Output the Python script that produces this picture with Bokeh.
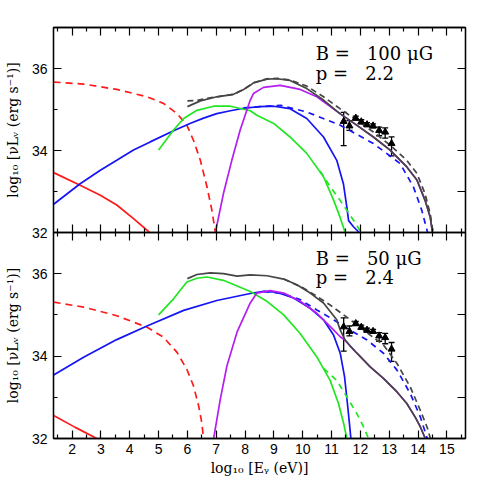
from bokeh.plotting import figure
from bokeh.layouts import column
from bokeh.models import (Range1d, LinearAxis, FixedTicker, CustomJSTickFormatter,
                          Label, Whisker, TeeHead, ColumnDataSource)
from bokeh.embed import file_html
from bokeh.resources import INLINE

# ---------------- data ----------------
x_major = list(range(2, 16))
x_minor = [i + 0.5 for i in range(1, 16)]
y_major = [32, 34, 36]
y_minor = [33, 35, 37]
y_right = [32, 33, 34, 35, 36, 37]

y_label = "log\u2081\u2080 [\u03bdL\u1d65 (erg s\u207b\u00b9)]"
x_label = "log\u2081\u2080 [E\u1d67 (eV)]"

top_B = "B =\u00a0\u00a0 100 \u03bcG"
top_p = "p =\u00a0\u00a0 2.2"
bot_B = "B =\u00a0\u00a0 50 \u03bcG"
bot_p = "p =\u00a0\u00a0 2.4"

# observed points (same in both panels)
obs_x = [11.42, 11.62, 11.84, 12.03, 12.23, 12.44, 12.65, 12.86, 13.08]
obs_y = [34.71, 34.60, 34.79, 34.70, 34.63, 34.60, 34.49, 34.45, 34.17]
obs_lo = [34.12, 34.49, 34.74, 34.65, 34.58, 34.55, 34.36, 34.30, 33.87]
obs_hi = [34.93, 34.73, 34.84, 34.75, 34.68, 34.65, 34.57, 34.55, 34.33]

# ---- top panel (B = 100 uG, p = 2.2) ----
top_red_dash_x = [1.36, 2.40, 3.55, 4.60, 5.17, 5.64, 5.98, 6.21, 6.45, 6.68, 6.85, 6.97]
top_red_dash_y = [35.67, 35.62, 35.49, 35.31, 35.15, 34.90, 34.62, 34.25, 33.76, 33.11, 32.54, 32.0]
top_red_x = [1.36, 2.28, 2.98, 3.55, 4.13, 4.69]
top_red_y = [33.46, 33.15, 32.91, 32.67, 32.34, 32.0]
top_blue_x = [1.36, 2.28, 2.98, 3.55, 4.13, 4.71, 5.52, 6.09, 6.56, 7.02, 7.49, 7.95, 8.5, 8.99,
              9.56, 10.14, 10.72, 11.18, 11.41, 11.53, 11.59, 11.76, 11.96]
top_blue_y = [32.69, 33.19, 33.52, 33.76, 34.01, 34.21, 34.48, 34.66, 34.79, 34.90, 34.97, 35.03, 35.07, 35.08,
              35.02, 34.78, 34.33, 33.76, 33.19, 32.62, 32.29, 32.14, 32.0]
top_blue_dash_x = [7.95, 8.99, 9.24, 10.14, 11.29, 12.45, 13.38, 13.84, 14.13, 14.33]
top_blue_dash_y = [35.04, 35.09, 35.10, 34.94, 34.62, 34.17, 33.68, 33.11, 32.54, 32.0]
top_green_x = [5.0, 5.52, 5.87, 6.33, 6.91, 7.49, 8.18, 8.41, 8.99, 9.56, 10.14, 10.72, 11.07, 11.29, 11.47]
top_green_y = [34.01, 34.50, 34.78, 34.98, 35.08, 35.08, 34.97, 34.86, 34.66, 34.33, 33.93, 33.36, 32.79, 32.38, 32.0]
top_green_dash_x = [10.6, 10.95, 11.29, 11.76, 12.03]
top_green_dash_y = [33.50, 33.12, 32.79, 32.30, 32.0]
top_purple_x = [6.97, 7.25, 7.54, 7.83, 8.18, 8.29, 8.64, 9.22, 9.91, 10.49, 11.29,
                11.87, 12.45, 13.03, 13.61, 13.96, 14.24, 14.42, 14.50]
top_purple_y = [32.0, 32.95, 33.76, 34.50, 35.23, 35.39, 35.54, 35.59, 35.49, 35.31, 34.90,
                34.62, 34.33, 34.01, 33.60, 33.28, 32.79, 32.38, 32.0]
top_gray_x = [6.0, 6.45, 7.02, 7.60, 7.95, 8.18, 8.29, 8.76, 9.10, 9.56, 10.14, 10.72, 11.29,
              11.87, 12.45, 13.03, 13.61, 13.96, 14.24, 14.42, 14.50]
top_gray_y = [35.07, 35.21, 35.31, 35.37, 35.49, 35.59, 35.65, 35.74, 35.75, 35.71, 35.51, 35.23, 34.90,
              34.62, 34.33, 34.01, 33.60, 33.28, 32.79, 32.38, 32.0]
top_gray_dash_x = [6.0, 6.33, 6.6, 7.02, 7.60, 7.95, 8.29, 8.76, 9.10, 9.56, 10.14, 10.72, 11.29,
                   11.87, 12.45, 13.03, 13.61, 13.96, 14.24, 14.42, 14.52]
top_gray_dash_y = [35.21, 35.22, 35.26, 35.31, 35.37, 35.49, 35.65, 35.75, 35.76, 35.72, 35.57, 35.31, 35.02,
                   34.74, 34.45, 34.13, 33.76, 33.44, 32.95, 32.46, 32.0]

# ---- bottom panel (B = 50 uG, p = 2.4) ----
bot_red_dash_x = [1.36, 2.40, 3.55, 4.60, 5.17, 5.64, 5.98, 6.21, 6.39, 6.50, 6.56]
bot_red_dash_y = [35.31, 35.19, 34.98, 34.70, 34.46, 34.09, 33.68, 33.28, 32.79, 32.38, 32.0]
bot_red_x = [1.36, 2.11, 2.86]
bot_red_y = [32.56, 32.27, 32.0]
bot_blue_x = [1.36, 2.40, 3.55, 4.60, 5.87, 7.02, 8.18, 8.64, 9.10, 9.68, 10.26, 10.72, 11.07,
              11.30, 11.45, 11.55, 11.62, 11.67]
bot_blue_y = [33.54, 33.97, 34.40, 34.73, 35.11, 35.35, 35.52, 35.57, 35.55, 35.41, 35.16, 34.88, 34.51,
              34.07, 33.50, 32.85, 32.36, 32.0]
bot_blue_dash_x = [8.64, 9.34, 9.91, 10.49, 11.07, 11.65, 12.23, 12.80, 13.27, 13.73, 14.08, 14.32]
bot_blue_dash_y = [35.57, 35.51, 35.37, 35.12, 34.88, 34.63, 34.39, 34.07, 33.66, 33.09, 32.52, 32.0]
bot_green_x = [5.0, 5.52, 5.98, 6.33, 6.68, 7.25, 7.83, 8.18, 8.76, 9.34, 9.91, 10.49, 10.95, 11.24, 11.42, 11.53]
bot_green_y = [35.0, 35.39, 35.80, 35.89, 35.92, 35.84, 35.67, 35.57, 35.33, 35.0, 34.55, 33.98, 33.41, 32.85, 32.36, 32.0]
bot_green_dash_x = [10.72, 11.18, 11.53, 11.88, 12.11, 12.28]
bot_green_dash_y = [33.70, 33.41, 33.01, 32.60, 32.28, 32.0]
bot_purple_x = [6.91, 7.14, 7.37, 7.72, 8.18, 8.41, 8.87, 9.34, 9.91, 10.49, 10.95, 11.30, 11.47,
                11.64, 11.88, 12.34, 12.80, 13.27, 13.61, 13.90, 14.08, 14.25]
bot_purple_y = [32.0, 32.95, 33.76, 34.58, 35.29, 35.53, 35.59, 35.53, 35.33, 35.04, 34.72, 34.47, 34.38,
                34.25, 34.07, 33.74, 33.46, 33.13, 32.85, 32.52, 32.28, 32.0]
bot_gray_x = [6.0, 6.33, 6.79, 7.25, 7.72, 8.18, 8.76, 9.34, 9.80, 10.26, 10.72, 11.18, 11.29, 11.47,
              11.64, 11.88, 12.34, 12.80, 13.27, 13.61, 13.90, 14.08, 14.25]
bot_gray_y = [35.88, 35.98, 36.02, 36.0, 35.94, 35.97, 35.95, 35.87, 35.73, 35.53, 35.29, 34.88, 34.65, 34.39,
              34.25, 34.07, 33.74, 33.46, 33.13, 32.85, 32.52, 32.28, 32.0]
bot_gray_dash_x = [9.34, 10.03, 10.49, 10.95, 11.42, 11.88, 12.34, 12.80, 13.27, 13.73, 14.08, 14.31, 14.43]
bot_gray_dash_y = [35.87, 35.65, 35.45, 35.24, 35.0, 34.76, 34.51, 34.27, 33.82, 33.25, 32.68, 32.28, 32.0]

# ---------------- styles ----------------
RED = "#ff1a1a"
BLUE = "#1414f5"
GREEN = "#22e622"
PURPLE = "#b41ef0"
GRAY = "#454545"
LW = 1.7
SERIF = "DejaVu Serif"
SANS = "Liberation Sans"
OVERLAP = 10

x_range = Range1d(1.356, 15.645)


def style_axis(ax):
    ax.axis_line_color = "black"
    ax.axis_line_width = 1.3
    ax.major_tick_line_color = "black"
    ax.major_tick_line_width = 1.2
    ax.minor_tick_line_color = "black"
    ax.minor_tick_line_width = 1.2
    ax.major_tick_in = 8
    ax.major_tick_out = 0
    ax.minor_tick_in = 4
    ax.minor_tick_out = 0


def blank_axis(ticks, minors):
    ax = LinearAxis(ticker=FixedTicker(ticks=ticks, minor_ticks=minors),
                    formatter=CustomJSTickFormatter(code="return ''"))
    style_axis(ax)
    ax.major_label_standoff = 0
    ax.major_label_text_font_size = "0px"
    return ax


def label_axis(ticks, minors, label):
    ax = LinearAxis(ticker=FixedTicker(ticks=ticks, minor_ticks=minors))
    style_axis(ax)
    ax.major_label_text_font = SANS
    ax.major_label_text_font_size = "14px"
    ax.major_label_text_color = "black"
    ax.major_label_standoff = 6
    ax.axis_label = label
    ax.axis_label_text_font = SERIF
    ax.axis_label_text_font_size = "14px"
    ax.axis_label_text_font_style = "normal"
    ax.axis_label_text_color = "black"
    ax.axis_label_standoff = 8
    return ax


def make_panel(frame_h, top_border, bottom_border, show_x_labels):
    p = figure(frame_width=412, frame_height=frame_h, x_range=x_range, y_range=Range1d(32, 37),
               min_border_left=53, min_border_right=18,
               min_border_top=top_border, min_border_bottom=bottom_border,
               x_axis_location=None, y_axis_location=None,
               toolbar_location=None, output_backend="svg")
    p.grid.visible = False
    p.outline_line_color = "black"
    p.outline_line_width = 1.3
    p.background_fill_color = "white"
    p.add_layout(label_axis(y_major, y_minor, y_label), "left")
    p.add_layout(blank_axis(y_right, []), "right")
    p.add_layout(blank_axis(x_major, x_minor), "above")
    if show_x_labels:
        ax = label_axis(x_major, x_minor, x_label)
        ax.major_label_standoff = 5
        ax.axis_label_standoff = 3
        p.add_layout(ax, "below")
    else:
        p.add_layout(blank_axis(x_major, x_minor), "below")
    return p


def draw(p, curves, texts):
    for xs, ys, color, dash in curves:
        p.line(xs, ys, line_color=color, line_width=LW, line_dash=dash)
    src = ColumnDataSource(dict(x=obs_x, y=obs_y, lo=obs_lo, hi=obs_hi))
    p.add_layout(Whisker(source=src, base="x", upper="hi", lower="lo", dimension="height",
                         line_color="black", line_width=1.3,
                         upper_head=TeeHead(size=6, line_color="black", line_width=1.3),
                         lower_head=TeeHead(size=6, line_color="black", line_width=1.3)))
    p.scatter("x", "y", source=src, marker="triangle", size=7, color="black")
    for txt, yy in texts:
        p.add_layout(Label(x=10.45, y=yy, text=txt, text_font=SERIF, text_font_size="18px",
                           text_baseline="alphabetic", text_align="left", text_color="black"))


# top panel: keeps a strip below its frame so that its "32" label is not clipped
p1 = make_panel(205, 27, OVERLAP, False)
p1.border_fill_color = "white"
draw(p1, [
    (top_red_dash_x, top_red_dash_y, RED, "7 5"),
    (top_red_x, top_red_y, RED, "solid"),
    (top_blue_x, top_blue_y, BLUE, "solid"),
    (top_blue_dash_x, top_blue_dash_y, BLUE, "6 5"),
    (top_green_x, top_green_y, GREEN, "solid"),
    (top_green_dash_x, top_green_dash_y, GREEN, "6 5"),
    (top_purple_x, top_purple_y, PURPLE, "solid"),
    (top_gray_x, top_gray_y, GRAY, "solid"),
    (top_gray_dash_x, top_gray_dash_y, GRAY, "6 4"),
], [(top_B, 36.37), (top_p, 35.88)])

# bottom panel: pulled up over that strip, with a transparent border
p2 = make_panel(206, 0, 45, True)
p2.border_fill_color = None
p2.styles = {"margin-top": f"-{OVERLAP}px"}
draw(p2, [
    (bot_red_dash_x, bot_red_dash_y, RED, "7 5"),
    (bot_red_x, bot_red_y, RED, "solid"),
    (bot_blue_x, bot_blue_y, BLUE, "solid"),
    (bot_blue_dash_x, bot_blue_dash_y, BLUE, "6 5"),
    (bot_green_x, bot_green_y, GREEN, "solid"),
    (bot_green_dash_x, bot_green_dash_y, GREEN, "6 5"),
    (bot_purple_x, bot_purple_y, PURPLE, "solid"),
    (bot_gray_x, bot_gray_y, GRAY, "solid"),
    (bot_gray_dash_x, bot_gray_dash_y, GRAY, "6 4"),
], [(bot_B, 36.38), (bot_p, 35.90)])

layout = column(p1, p2, spacing=0)
open("out.html", "w").write(file_html(layout, INLINE))
